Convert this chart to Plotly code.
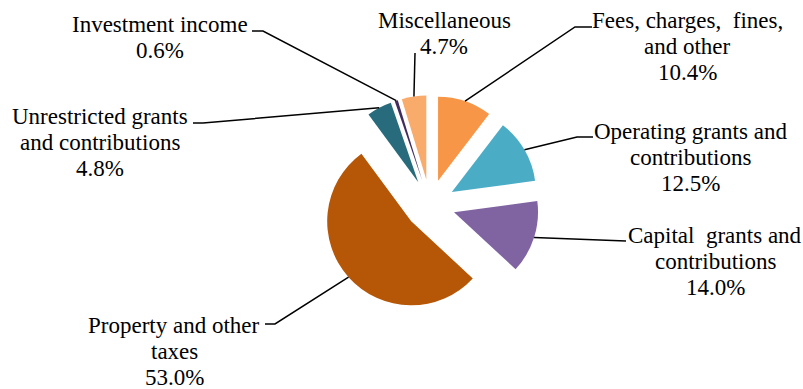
import math
import plotly.graph_objects as go

# ---------------- data ----------------
categories = [
    "Fees, charges, fines, and other",
    "Operating grants and contributions",
    "Capital grants and contributions",
    "Property and other taxes",
    "Unrestricted grants and contributions",
    "Investment income",
    "Miscellaneous",
]
values = [10.4, 12.5, 14.0, 53.0, 4.8, 0.6, 4.7]
label_lines = [
    ["Fees, charges,  fines,", "and other"],
    ["Operating grants and", "contributions"],
    ["Capital  grants and", "contributions"],
    ["Property and other", "taxes"],
    ["Unrestricted grants", "and contributions"],
    ["Investment income"],
    ["Miscellaneous"],
]
colors = ["#F79646", "#4BACC6", "#8064A2", "#B65708", "#286B7C", "#3F2D60", "#F9AB6C"]

# ---------------- layout constants (pixels) ----------------
W, H = 803, 389
CX, CY = 430.0, 204.5      # pie centre
R = 84.0                   # pie radius
PULL = 0.3                 # explosion (fraction of radius)
FONT = dict(family="Liberation Serif", size=23, color="#000000")
LINE_GAP = 26

# label placement: (centre x, first line centre y) and leader bend points
label_pos = [
    (687, 21), (690, 131), (715, 235), (174, 325), (100, 116), (160, 25), (444, 21),
]
leader_pts = [
    [(575, 27), (592, 27)],
    [(577, 137), (593, 137)],
    [(626, 241)],
    [(275, 324), (265, 324)],
    [(203, 123), (193, 123)],
    [(263, 31), (252, 31)],
    [(415, 53)],
]


def px(x):
    return x / W


def py(y):
    return 1 - y / H


box = 2 * R * (1 + PULL)
dom_x = [px(CX - box / 2), px(CX + box / 2)]
dom_y = [py(CY + box / 2), py(CY - box / 2)]

fig = go.Figure(go.Pie(
    labels=categories,
    values=values,
    sort=False,
    direction="clockwise",
    rotation=0,
    pull=[PULL] * len(values),
    marker=dict(colors=colors, line=dict(width=0)),
    textinfo="none",
    hoverinfo="label+percent",
    showlegend=False,
    domain=dict(x=dom_x, y=dom_y),
))

total = sum(values)
cum = 0.0
shapes = []
annotations = []
for i, v in enumerate(values):
    mid = 2 * math.pi * (cum + v / 2) / total
    cum += v
    dx, dy = math.sin(mid), -math.cos(mid)
    ax = CX + (R * PULL + R) * dx
    ay = CY + (R * PULL + R) * dy
    pts = [(ax, ay)] + leader_pts[i]
    path = "M " + " L ".join(f"{px(x):.5f},{py(y):.5f}" for x, y in pts)
    shapes.append(dict(type="path", path=path, xref="paper", yref="paper",
                       line=dict(color="#000000", width=1.5)))
    lines = label_lines[i] + [f"{v:.1f}%"]
    lx, ly = label_pos[i]
    for k, t in enumerate(lines):
        annotations.append(dict(
            text=t, x=px(lx), y=py(ly + k * LINE_GAP), xref="paper", yref="paper",
            xanchor="center", yanchor="middle", showarrow=False, font=FONT,
        ))

fig.update_layout(
    width=W, height=H,
    margin=dict(l=0, r=0, t=0, b=0),
    paper_bgcolor="#FFFFFF",
    plot_bgcolor="#FFFFFF",
    font=FONT,
    shapes=shapes,
    annotations=annotations,
)

fig.write_html("out.html")
